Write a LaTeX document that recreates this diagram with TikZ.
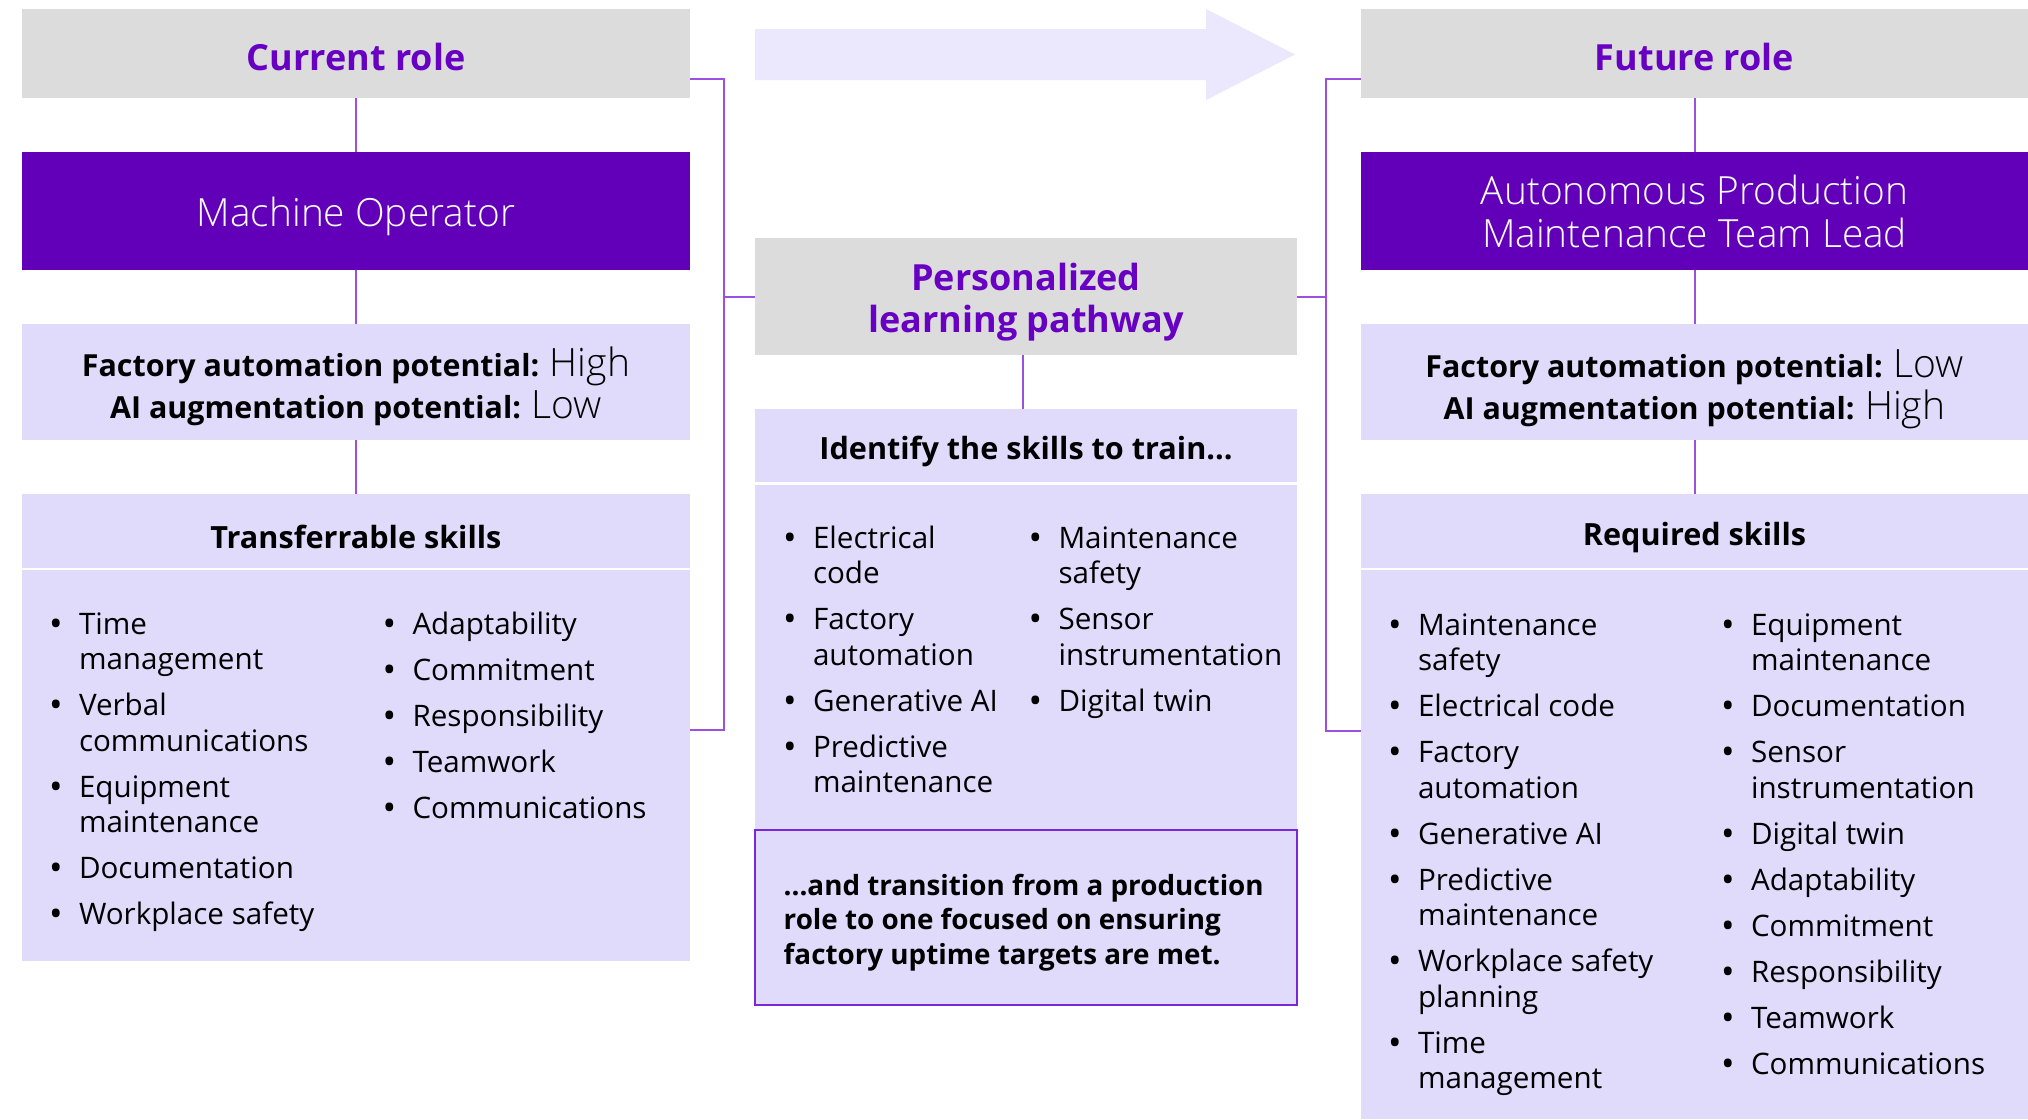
\documentclass[tikz,border=0pt]{standalone}
\usepackage{fontspec}
\setmainfont{Open Sans}
\newfontfamily\lightfont{Open Sans Light}
\definecolor{grayfill}{RGB}{220,220,220}
\definecolor{deepurple}{RGB}{98,0,185}
\definecolor{titlepurple}{RGB}{104,0,196}
\definecolor{lav}{RGB}{224,218,251}
\definecolor{arrowlav}{RGB}{235,231,253}
\definecolor{linkpurple}{RGB}{155,80,225}
\definecolor{borderpurple}{RGB}{120,40,215}
\newcommand\bul{\raisebox{-1pt}{\fontsize{18}{18}\selectfont\textbullet}}
\newcommand\skl[1]{\par\noindent\hangindent=13.75pt\hangafter=1\makebox[13.75pt][l]{\hspace*{-1.2pt}\bul}#1}
\newcommand\skillcol[1]{\parbox[t]{170pt}{\fontsize{14.8}{17.75}\selectfont\setlength\parskip{5.25pt}#1}}
\tikzset{
  base/.style={inner sep=0pt, outer sep=0pt, draw=none},
  graybox/.style={base, fill=grayfill},
  darkbox/.style={base, fill=deepurple},
  lavbox/.style={base, fill=lav},
  borderbox/.style={base, fill=lav, draw=borderpurple, line width=1pt},
  titletext/.style={base, anchor=base, text=titlepurple, font=\bfseries\fontsize{18}{21}\selectfont},
  whitetext/.style={base, anchor=base, text=white, font=\lightfont\fontsize{19.4}{21}\selectfont},
  facttext/.style={base, anchor=base, text=black, font=\fontsize{15.2}{17}\selectfont},
  headtext/.style={base, anchor=base, text=black, font=\bfseries\fontsize{15.3}{17}\selectfont},
  listnode/.style={base, anchor=base west, text=black},
  link/.style={draw=linkpurple, line width=1pt},
}
\newcommand\lvl[1]{{\lightfont\fontsize{19.5}{19.5}\selectfont #1}}
\begin{document}
\begin{tikzpicture}[x=0.5pt, y=-0.5pt]
\useasboundingbox (0,0) rectangle (2028,1119);
% arrow
\fill[arrowlav] (755,29) -- (1206,29) -- (1206,9) -- (1295,54.5) -- (1206,100) -- (1206,80) -- (755,80) -- cycle;
% left column
\node[graybox, minimum width=334pt, minimum height=44.5pt] (cur) at (356,53.5) {};
\node[darkbox, minimum width=334pt, minimum height=59pt] (mop) at (356,211) {};
\node[lavbox, minimum width=334pt, minimum height=58pt] (lfac) at (356,382) {};
\node[lavbox, minimum width=334pt, minimum height=37pt] (lhead) at (356,531) {};
\node[lavbox, minimum width=334pt, minimum height=195.5pt] (lbody) at (356,765.5) {};
% middle column
\node[graybox, minimum width=271pt, minimum height=58.5pt] (path) at (1026,296.5) {};
\node[lavbox, minimum width=271pt, minimum height=36.5pt] (mhead) at (1026,445.5) {};
\node[lavbox, minimum width=271pt, minimum height=172.25pt] (mbody) at (1026,656.75) {};
\node[borderbox, minimum width=271pt, minimum height=87.25pt] (mbot) at (1026,917.25) {};
% right column
\node[graybox, minimum width=333.5pt, minimum height=44.5pt] (fut) at (1694.5,53.5) {};
\node[darkbox, minimum width=333.5pt, minimum height=59pt] (auto) at (1694.5,211) {};
\node[lavbox, minimum width=333.5pt, minimum height=58pt] (rfac) at (1694.5,382) {};
\node[lavbox, minimum width=333.5pt, minimum height=37pt] (rhead) at (1694.5,531) {};
\node[lavbox, minimum width=333.5pt, minimum height=274.5pt] (rbody) at (1694.5,844.5) {};
% connectors
\draw[link] (cur.south) -- (mop.north);
\draw[link] (mop.south) -- (lfac.north);
\draw[link] (lfac.south) -- (lhead.north);
\draw[link] (fut.south) -- (auto.north);
\draw[link] (auto.south) -- (rfac.north);
\draw[link] (rfac.south) -- (rhead.north);
\draw[link] ([xshift=-1.5pt]path.south) -- ([xshift=-1.5pt]mhead.north);
\coordinate (lbrk) at (724,296.5);
\coordinate (rbrk) at (1326,296.5);
\draw[link] ([yshift=9.5pt]cur.south east) -| (lbrk) |- ([yshift=17.75pt]lbody.east);
\draw[link] (lbrk) -- (path.west);
\draw[link] ([yshift=9.5pt]fut.south west) -| (rbrk) |- ([yshift=56.75pt]rbody.west);
\draw[link] (path.east) -- (rbrk);
% texts
\node[titletext] (curT) at (356,70) {Current role};
\node[titletext] (futT) at (1694.5,70) {Future role};
\node[titletext] (pathT1) at (1026,290) {Personalized};
\node[titletext] (pathT2) at (1026,332) {learning pathway};
\node[whitetext] (mopT) at (356,226.7) {Machine Operator};
\node[whitetext] (autoT1) at (1694.5,204) {Autonomous Production};
\node[whitetext] (autoT2) at (1694.5,247) {Maintenance Team Lead};
\node[facttext] (lf1) at (356,376) {\textbf{Factory automation potential:} \lvl{High}};
\node[facttext] (lf2) at (356,418) {\textbf{AI augmentation potential:} \lvl{Low}};
\node[facttext] (rf1) at (1694.5,377) {\textbf{Factory automation potential:} \lvl{Low}};
\node[facttext] (rf2) at (1694.5,419) {\textbf{AI augmentation potential:} \lvl{High}};
\node[headtext] (lheadT) at (356,548) {Transferrable skills};
\node[headtext] (rheadT) at (1694.5,545) {Required skills};
\node[headtext] (mheadT) at (1026,459.6) {Identify the skills to train...};
\node[listnode] (mbotT) at (783.7,895) {\parbox[t]{270pt}{\bfseries\fontsize{13.9}{17.35}\selectfont ...and transition from a production\\ role to one focused on ensuring\\ factory uptime targets are met.}};
% lists
\node[listnode] (lc1) at (51.5,634) {\skillcol{\skl{Time\\management}\skl{Verbal\\communications}\skl{Equipment\\maintenance}\skl{Documentation}\skl{Workplace safety}}};
\node[listnode] (lc2) at (385,634) {\skillcol{\skl{Adaptability}\skl{Commitment}\skl{Responsibility}\skl{Teamwork}\skl{Communications}}};
\node[listnode] (mc1) at (785.5,548) {\skillcol{\skl{Electrical\\code}\skl{Factory\\automation}\skl{Generative AI}\skl{Predictive\\maintenance}}};
\node[listnode] (mc2) at (1031,548) {\skillcol{\skl{Maintenance\\safety}\skl{Sensor\\instrumentation}\skl{Digital twin}}};
\node[listnode] (rc1) at (1390.5,635) {\skillcol{\skl{Maintenance\\safety}\skl{Electrical code}\skl{Factory\\automation}\skl{Generative AI}\skl{Predictive\\maintenance}\skl{Workplace safety\\planning}\skl{Time\\management}}};
\node[listnode] (rc2) at (1723.5,635) {\skillcol{\skl{Equipment\\maintenance}\skl{Documentation}\skl{Sensor\\instrumentation}\skl{Digital twin}\skl{Adaptability}\skl{Commitment}\skl{Responsibility}\skl{Teamwork}\skl{Communications}}};
\end{tikzpicture}
\end{document}
